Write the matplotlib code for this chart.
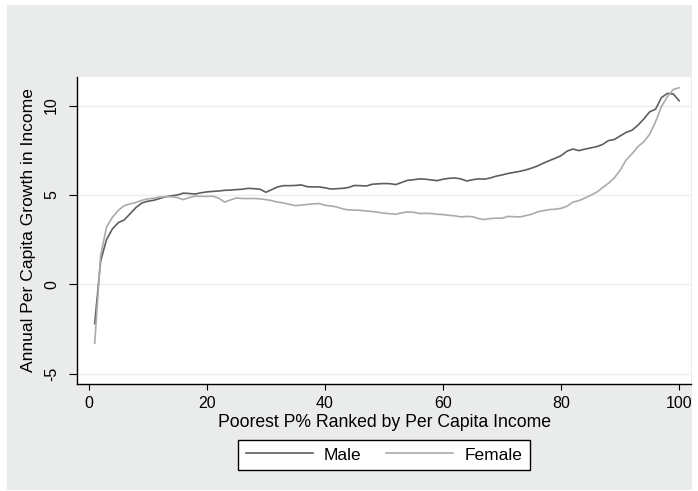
import matplotlib.pyplot as plt
from matplotlib.patches import Rectangle

plt.rcParams['font.family'] = ['Liberation Sans', 'DejaVu Sans']
plt.rcParams['axes.unicode_minus'] = False

# percentile of the income distribution
pct = list(range(1, 101))

male = [-2.2, 1.3, 2.5, 3.1, 3.45, 3.6, 3.95, 4.3, 4.55, 4.65,
        4.7, 4.8, 4.9, 4.95, 5.0, 5.1, 5.08, 5.05, 5.12, 5.17,
        5.2, 5.22, 5.26, 5.27, 5.3, 5.32, 5.37, 5.35, 5.32, 5.15,
        5.3, 5.45, 5.52, 5.52, 5.53, 5.56, 5.46, 5.45, 5.45, 5.4,
        5.33, 5.35, 5.37, 5.42, 5.53, 5.52, 5.5, 5.6, 5.62, 5.64,
        5.63, 5.58, 5.7, 5.82, 5.85, 5.9, 5.88, 5.84, 5.8, 5.88,
        5.93, 5.95, 5.9, 5.78, 5.85, 5.9, 5.88, 5.95, 6.05, 6.12,
        6.2, 6.26, 6.32, 6.4, 6.5, 6.62, 6.78, 6.92, 7.05, 7.2,
        7.45, 7.57, 7.48, 7.56, 7.63, 7.7, 7.82, 8.04, 8.1, 8.3,
        8.5, 8.62, 8.9, 9.25, 9.65, 9.8, 10.45, 10.68, 10.65, 10.27]

female = [-3.3, 1.6, 3.2, 3.75, 4.14, 4.4, 4.5, 4.58, 4.7, 4.78,
          4.82, 4.88, 4.9, 4.9, 4.85, 4.74, 4.85, 4.93, 4.92, 4.92,
          4.93, 4.82, 4.6, 4.72, 4.83, 4.8, 4.8, 4.8, 4.78, 4.74,
          4.68, 4.6, 4.55, 4.47, 4.4, 4.43, 4.47, 4.5, 4.52, 4.42,
          4.38, 4.33, 4.22, 4.16, 4.15, 4.14, 4.1, 4.07, 4.03, 3.98,
          3.95, 3.92, 4.0, 4.05, 4.03, 3.96, 3.97, 3.96, 3.92, 3.9,
          3.86, 3.83, 3.77, 3.8, 3.78, 3.68, 3.62, 3.68, 3.7, 3.7,
          3.8, 3.78, 3.77, 3.84, 3.92, 4.05, 4.12, 4.18, 4.2, 4.25,
          4.37, 4.6, 4.68, 4.82, 4.98, 5.15, 5.4, 5.65, 5.95, 6.38,
          6.95, 7.3, 7.7, 7.97, 8.4, 9.1, 9.95, 10.5, 10.9, 11.0]

xticks = [0, 20, 40, 60, 80, 100]
yticks = [-5, 0, 5, 10]

fig = plt.figure(figsize=(6.98, 4.91), dpi=100)
fig.patch.set_facecolor('white')
# stata-like gray graph region, kept behind the axes
fig.patches.append(Rectangle((7/698, 1/491), 685/698, 485/491,
                             transform=fig.transFigure, facecolor='#eaeceb',
                             edgecolor='none', zorder=-5))

ax = fig.add_axes([77/698, 1 - 384/491, 614/698, 307/491])
ax.set_facecolor('white')

ax.plot(pct, male, color='#5e5e5e', linewidth=1.2, label='Male')
ax.plot(pct, female, color='#ababab', linewidth=1.2, label='Female')

ax.set_xlim(-2, 102)
ax.set_ylim(-5.58, 11.6)
ax.set_xticks(xticks)
ax.set_yticks(yticks)
ax.grid(axis='y', color='#ececec', linewidth=1.0)
ax.set_axisbelow(True)

for s in ['top', 'right']:
    ax.spines[s].set_visible(False)
ax.spines['left'].set_linewidth(1.0)
ax.spines['bottom'].set_linewidth(1.0)

ax.tick_params(axis='x', length=4, width=0.8, pad=5, labelsize=11.5)
ax.tick_params(axis='y', length=5.5, width=0.8, pad=7.5, labelsize=11.5)
for lab in ax.get_yticklabels():
    lab.set_rotation(90)
    lab.set_va('center')
ax.get_xticklines()[-2].set_color('#1f6fb0')

ax.set_xlabel('Poorest P% Ranked by Per Capita Income', fontsize=12.7, labelpad=2)
ax.set_ylabel('Annual Per Capita Growth in Income', fontsize=12.6, labelpad=6)

leg = fig.legend(loc='center', bbox_to_anchor=(384/698, 1 - 455/491), ncol=2,
                 fontsize=12.5, handlelength=3.85, fancybox=False, framealpha=1,
                 edgecolor='black', columnspacing=1.4, borderpad=0.45,
                 handletextpad=0.65, borderaxespad=0)
leg.get_frame().set_linewidth(1.0)

fig.savefig('out.png', dpi=100)
